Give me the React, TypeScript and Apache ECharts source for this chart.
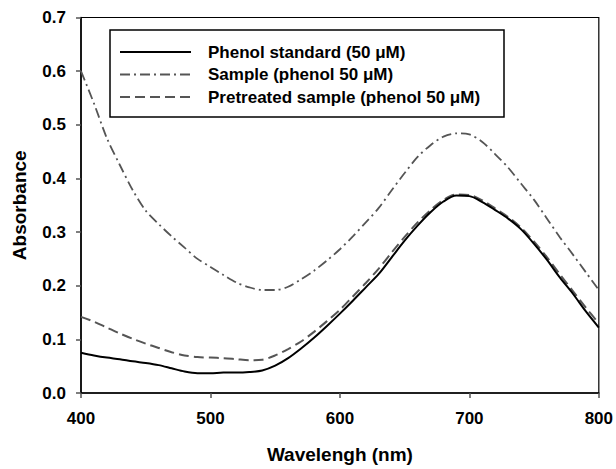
import React, { useEffect, useRef } from "react";
import * as echarts from "echarts";

const wavelengths = [
  400, 410, 420, 430, 440, 450, 460, 470, 480, 490, 500, 510, 520, 530, 540, 550, 560, 570, 580, 590, 600,
  610, 620, 630, 640, 650, 660, 670, 680, 690, 700, 710, 720, 730, 740, 750, 760, 770, 780, 790, 800,
];

const phenolStandard = [
  0.075, 0.07, 0.066, 0.063, 0.059, 0.056, 0.052, 0.046, 0.04, 0.037, 0.037, 0.038, 0.038, 0.039, 0.042,
  0.051, 0.065, 0.083, 0.103, 0.125, 0.148, 0.172, 0.197, 0.222, 0.253, 0.284, 0.312, 0.337, 0.357, 0.368,
  0.367, 0.356, 0.341, 0.325, 0.305, 0.278, 0.248, 0.215, 0.185, 0.152, 0.122,
];

const sample = [
  0.6, 0.54, 0.475, 0.425, 0.378, 0.34, 0.315, 0.292, 0.271, 0.25, 0.235, 0.22, 0.206, 0.197, 0.192, 0.192,
  0.198, 0.212, 0.228, 0.247, 0.268, 0.292, 0.318, 0.345, 0.378, 0.41, 0.44, 0.462, 0.478, 0.484, 0.482,
  0.468, 0.445, 0.42, 0.39, 0.36, 0.325, 0.29, 0.258, 0.225, 0.192,
];

const pretreated = [
  0.142, 0.133, 0.122, 0.111, 0.101, 0.092, 0.084, 0.076, 0.07, 0.067, 0.066, 0.065, 0.063, 0.061, 0.062,
  0.07, 0.082, 0.096, 0.114, 0.134, 0.155, 0.18, 0.205, 0.232, 0.262, 0.291, 0.318, 0.341, 0.36, 0.37,
  0.369, 0.359, 0.344, 0.328, 0.308, 0.282, 0.253, 0.221, 0.19, 0.159, 0.13,
];

const seriesNames = [
  "Phenol standard (50 μM)",
  "Sample (phenol 50 μM)",
  "Pretreated sample (phenol 50 μM)",
];

const FONT = "Liberation Sans, Arial, sans-serif";

export default function App() {
  const ref = useRef<HTMLDivElement>(null);

  useEffect(() => {
    if (!ref.current) return;
    const chart = echarts.init(ref.current, undefined, { renderer: "svg" });
    const pair = (ys: number[]) => wavelengths.map((x, i) => [x, ys[i]]);
    const styles = [
      { color: "#000000", width: 2, type: "solid" as any },
      { color: "#555555", width: 1.8, type: [10, 4, 2, 4] as any },
      { color: "#555555", width: 2, type: [10, 5] as any },
    ];
    const legendRowsY = [52, 74.5, 97];
    chart.setOption({
      animation: false,
      backgroundColor: "#ffffff",
      grid: {
        left: 81,
        right: 16,
        top: 17.5,
        bottom: 70,
        show: true,
        borderColor: "#000",
        borderWidth: 1.2,
        containLabel: false,
      },
      xAxis: {
        type: "value",
        min: 400,
        max: 800,
        interval: 100,
        name: "Wavelengh (nm)",
        nameLocation: "middle",
        nameGap: 52,
        nameTextStyle: { fontFamily: FONT, fontWeight: "bold", fontSize: 19, color: "#000" },
        axisLine: { show: true, lineStyle: { color: "#000", width: 1.5 } },
        axisTick: { show: true, inside: false, length: 5, lineStyle: { color: "#555", width: 1.5 } },
        axisLabel: { margin: 17, fontFamily: FONT, fontWeight: "bold", fontSize: 17, color: "#000" },
        splitLine: { show: false },
      },
      yAxis: {
        type: "value",
        min: 0,
        max: 0.7,
        interval: 0.1,
        name: "Absorbance",
        nameLocation: "middle",
        nameGap: 52,
        nameRotate: 90,
        nameTextStyle: { fontFamily: FONT, fontWeight: "bold", fontSize: 19, color: "#000" },
        axisLine: { show: true, lineStyle: { color: "#000", width: 1.5 } },
        axisTick: { show: true, inside: false, length: 5, lineStyle: { color: "#555", width: 1.5 } },
        axisLabel: {
          margin: 15,
          fontFamily: FONT,
          fontWeight: "bold",
          fontSize: 17,
          color: "#000",
          formatter: (v: number) => v.toFixed(1),
        },
        splitLine: { show: false },
      },
      series: [phenolStandard, sample, pretreated].map((d, i) => ({
        name: seriesNames[i],
        type: "line",
        data: pair(d),
        smooth: 0.3,
        showSymbol: false,
        symbol: "none",
        lineStyle: styles[i],
        z: 3 - i,
      })),
      graphic: [
        {
          type: "rect",
          shape: { x: 110, y: 30, width: 394, height: 87 },
          style: { fill: "#fff", stroke: "#000", lineWidth: 1.5 },
          z: 10,
        },
        ...styles.map((s, i) => ({
          type: "line",
          shape: { x1: 120, y1: legendRowsY[i], x2: 191, y2: legendRowsY[i] },
          style: {
            stroke: s.color,
            lineWidth: s.width,
            lineDash: Array.isArray(s.type) ? s.type : null,
          },
          z: 11,
        })),
        ...seriesNames.map((n, i) => ({
          type: "text",
          x: 208,
          y: legendRowsY[i],
          style: {
            text: n,
            fontFamily: FONT,
            fontWeight: "bold",
            fontSize: 17,
            fill: "#000",
            textVerticalAlign: "middle",
            verticalAlign: "middle",
          },
          z: 11,
        })),
      ],
    });
    return () => chart.dispose();
  }, []);

  return (
    <div
      ref={ref}
      style={{ position: "absolute", left: 0, top: 0, width: 616, height: 469 }}
    />
  );
}
